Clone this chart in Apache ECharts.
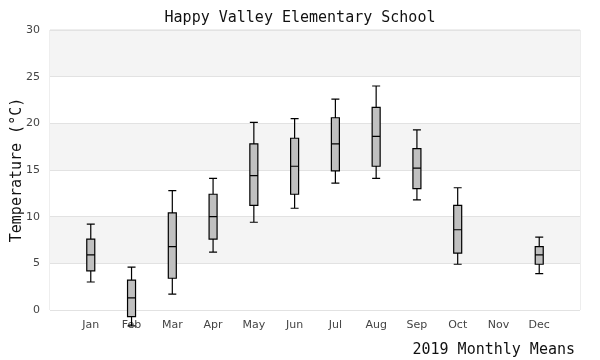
<!DOCTYPE html>
<html>
<head>
<meta charset="utf-8">
<script src="https://cdn.jsdelivr.net/npm/echarts@6/dist/echarts.min.js"></script>
<style>html,body{margin:0;padding:0;background:#fff;}#c{width:600px;height:360px;}</style>
</head>
<body>
<div id="c"></div>
<script>
var months = ['', 'Jan', 'Feb', 'Mar', 'Apr', 'May', 'Jun', 'Jul', 'Aug', 'Sep', 'Oct', 'Nov', 'Dec', ''];
// [low, q1, median, q3, high] per month (Nov has no data)
var lows    = [3.0, -1.7, 1.7, 6.2, 9.4, 10.9, 13.6, 14.1, 11.8, 4.9, null, 3.9];
var q1s     = [4.2, -0.7, 3.4, 7.6, 11.2, 12.4, 14.9, 15.4, 13.0, 6.1, null, 4.9];
var medians = [5.9, 1.3, 6.8, 10.0, 14.4, 15.4, 17.8, 18.6, 15.2, 8.6, null, 5.9];
var q3s     = [7.6, 3.2, 10.4, 12.4, 17.8, 18.4, 20.6, 21.7, 17.3, 11.2, null, 6.8];
var highs   = [9.2, 4.6, 12.8, 14.1, 20.1, 20.5, 22.6, 24.0, 19.3, 13.1, null, 7.8];
var yTicks = [0, 5, 10, 15, 20, 25, 30];

var boxData = [['-', '-', '-', '-', '-']];
for (var i = 0; i < 12; i++) {
  if (lows[i] === null) boxData.push(['-', '-', '-', '-', '-']);
  else boxData.push([lows[i], q1s[i], medians[i], q3s[i], highs[i]]);
}
boxData.push(['-', '-', '-', '-', '-']);

var monoFont = 'DejaVu Sans Mono';
var chart = echarts.init(document.getElementById('c'));
chart.setOption({
  animation: false,
  title: [{
    text: 'Happy Valley Elementary School',
    left: 'center', top: 6,
    textStyle: { fontFamily: monoFont, fontSize: 15, fontWeight: 'normal', color: '#111' }
  }, {
    text: '2019 Monthly Means',
    right: 20, top: 338,
    textStyle: { fontFamily: monoFont, fontSize: 15, fontWeight: 'normal', color: '#111' }
  }],
  grid: { left: 50, right: 20, top: 30, bottom: 50, outerBoundsMode: 'none', containLabel: false, show: true, borderColor: '#dcdcdc', borderWidth: 1, backgroundColor: 'transparent' },
  xAxis: {
    type: 'category', data: months, boundaryGap: false,
    axisLine: { show: false }, axisTick: { show: false },
    axisLabel: { color: '#444', fontSize: 11, fontFamily: 'DejaVu Sans', margin: 10, interval: 0 },
    splitLine: { show: false }
  },
  yAxis: {
    type: 'value', min: yTicks[0], max: yTicks[yTicks.length - 1], interval: 5,
    name: 'Temperature (°C)', nameLocation: 'middle', nameGap: 25, nameMoveOverlap: false,
    nameTextStyle: { fontFamily: monoFont, fontSize: 15, color: '#111' },
    axisLine: { show: false }, axisTick: { show: false },
    axisLabel: { color: '#444', fontSize: 11, fontFamily: 'DejaVu Sans', margin: 10 },
    splitLine: { show: true, lineStyle: { color: '#e2e2e2', width: 1 } },
    splitArea: { show: true, areaStyle: { color: ['#ffffff', '#f4f4f4'] } }
  },
  series: [{
    type: 'boxplot',
    data: boxData,
    boxWidth: [8, 8],
    itemStyle: { color: '#c0c0c0', borderColor: '#000', borderWidth: 1.2 }
  }]
});
</script>
</body>
</html>
